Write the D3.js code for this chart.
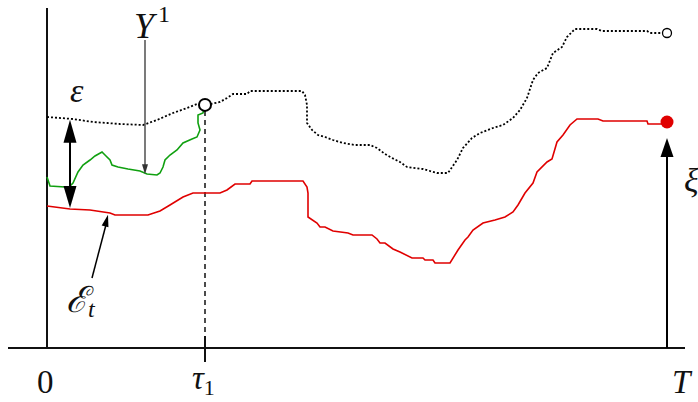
<!DOCTYPE html>
<html>
<head>
<meta charset="utf-8">
<script src="https://cdn.jsdelivr.net/npm/d3@7"></script>
<style>
  html, body { margin: 0; padding: 0; background: #fff; }
  svg { display: block; }
  .math { font-family: "Liberation Serif", "DejaVu Serif", serif; font-style: italic; fill: #111; }
  .num  { font-family: "Liberation Serif", "DejaVu Serif", serif; fill: #111; }
</style>
</head>
<body>
<svg id="chart" width="698" height="402"></svg>
<script>
// Time runs from 0 to T (= 620 steps); values are in the same plotting units.
const T = 620;
const tau1 = 158;

// Lower process E_t: [time, value]
const lowerT = [0, 23, 43, 63, 68, 101, 113, 123, 136, 146, 173, 180, 188, 203, 205, 256, 260, 261, 261, 270, 273, 278, 286, 301, 306, 325, 330, 333, 338, 346, 353, 365, 376, 378, 386, 388, 403, 411, 418, 421, 426, 436, 448, 458, 466, 471, 478, 486, 490, 500, 505, 510, 516, 523, 530, 551, 556, 600, 601, 620];
const lowerV = [142, 139, 138, 135, 133, 133, 137, 143, 151, 155, 155, 158, 164, 164, 167, 167, 161, 155, 131, 125, 121, 121, 117, 115, 113, 113, 109, 105, 105, 99, 96, 90, 90, 88, 88, 85, 85, 98, 108, 111, 118, 125, 128, 131, 136, 143, 155, 165, 176, 186, 189, 206, 213, 223, 229, 229, 227, 227, 224, 224];

// Upper barrier E_t + ε (dotted)
const upperT = [0, 26, 46, 60, 73, 96, 110, 126, 140, 150, 159, 173, 180, 186, 200, 203, 255, 258, 260, 260, 265, 271, 278, 286, 296, 308, 323, 330, 338, 345, 353, 360, 376, 390, 401, 410, 416, 425, 433, 446, 456, 466, 473, 480, 486, 491, 500, 506, 515, 520, 528, 550, 555, 600, 603, 620];
const upperV = [231, 229, 226, 225, 224, 223, 228, 235, 240, 244, 243, 246, 250, 254, 254, 257, 257, 253, 243, 225, 218, 213, 211, 208, 205, 203, 203, 200, 194, 190, 186, 181, 179, 175, 175, 188, 200, 210, 215, 220, 223, 230, 238, 250, 268, 275, 280, 295, 301, 311, 319, 319, 317, 317, 315, 315];

// First path Y^1, stopped when it reaches the upper barrier at tau_1
const pathT = [0, 3, 18, 21, 26, 31, 36, 43, 48, 55, 58, 63, 65, 71, 81, 93, 100, 110, 113, 116, 118, 123, 130, 136, 145, 150, 153, 151, 151, 156, 158];
const pathV = [171, 162, 161, 160, 165, 176, 183, 188, 192, 196, 193, 188, 183, 181, 179, 177, 174, 173, 175, 181, 188, 193, 198, 205, 209, 211, 218, 225, 233, 235, 243];

// Axis labels
const tickLabels = [{ t: 0, main: "0", sub: "" }, { t: tau1, main: "τ", sub: "1" }, { t: T, main: "T", sub: "" }];

const svg = d3.select("#chart");
const x = d3.scaleLinear().domain([0, T]).range([47, 667]);
const y = d3.scaleLinear().domain([0, 340]).range([348, 8]);

const zip = (ts, vs) => ts.map((t, i) => [t, vs[i]]);
const lower = zip(lowerT, lowerV);
const upper = zip(upperT, upperV);
const path1 = zip(pathT, pathV);

// value of a piecewise-linear series at time t
function valueAt(series, t) {
  for (let i = 1; i < series.length; i++) {
    if (series[i][0] >= t) {
      const [t0, v0] = series[i - 1], [t1, v1] = series[i];
      return t1 === t0 ? v1 : v0 + (v1 - v0) * (t - t0) / (t1 - t0);
    }
  }
  return series[series.length - 1][1];
}

const line = d3.line().x(d => x(d[0])).y(d => y(d[1]));

// filled arrowhead with its tip at (x2,y2)
function arrowHead(g, x1, y1, x2, y2, len, width, color) {
  const a = Math.atan2(y2 - y1, x2 - x1);
  const bx = x2 - len * Math.cos(a), by = y2 - len * Math.sin(a);
  const nx = -Math.sin(a) * width / 2, ny = Math.cos(a) * width / 2;
  g.append("path")
    .attr("d", `M${x2},${y2}L${bx + nx},${by + ny}L${bx - nx},${by - ny}Z`)
    .attr("fill", color);
}

// Axes
svg.append("line").attr("x1", x(0)).attr("x2", x(0)).attr("y1", 8).attr("y2", y(0))
  .attr("stroke", "#111").attr("stroke-width", 2);
svg.append("line").attr("x1", 8).attr("x2", 685).attr("y1", y(0)).attr("y2", y(0))
  .attr("stroke", "#111").attr("stroke-width", 2);

// tick at tau_1 and the dashed guide up to the hitting point
svg.append("line").attr("x1", x(tau1)).attr("x2", x(tau1)).attr("y1", y(0) - 12).attr("y2", y(0) + 14)
  .attr("stroke", "#111").attr("stroke-width", 2);
svg.append("line").attr("x1", x(tau1)).attr("x2", x(tau1))
  .attr("y1", y(valueAt(upper, tau1)) + 6).attr("y2", y(0) - 12)
  .attr("stroke", "#111").attr("stroke-width", 1.5).attr("stroke-dasharray", "5,4");

// Curves
svg.append("path").datum(upper).attr("d", line).attr("fill", "none")
  .attr("stroke", "#000").attr("stroke-width", 1.8).attr("stroke-dasharray", "2,2");
svg.append("path").datum(lower).attr("d", line).attr("fill", "none")
  .attr("stroke", "#e00000").attr("stroke-width", 1.6);
svg.append("path").datum(path1).attr("d", line).attr("fill", "none")
  .attr("stroke", "#10a010").attr("stroke-width", 1.6);

// hitting point at tau_1 and terminal point of the barrier
svg.append("circle").attr("cx", x(tau1)).attr("cy", y(valueAt(upper, tau1))).attr("r", 6)
  .attr("fill", "#fff").attr("stroke", "#000").attr("stroke-width", 2);
svg.append("circle").attr("cx", x(T)).attr("cy", y(valueAt(upper, T))).attr("r", 4.5)
  .attr("fill", "#fff").attr("stroke", "#000").attr("stroke-width", 1.3);
svg.append("circle").attr("cx", x(T)).attr("cy", y(valueAt(lower, T)) - 2).attr("r", 6.5)
  .attr("fill", "#e00000");

// ε double arrow between the two curves
const epsT = 23;
const ex = x(epsT), eTop = y(valueAt(upper, epsT)) + 1, eBot = y(valueAt(lower, epsT)) - 1;
const ga = svg.append("g");
ga.append("line").attr("x1", ex).attr("x2", ex).attr("y1", eTop + 18).attr("y2", eBot - 18)
  .attr("stroke", "#000").attr("stroke-width", 2);
arrowHead(ga, ex, eBot, ex, eTop, 23, 13, "#000");
arrowHead(ga, ex, eTop, ex, eBot, 22, 13, "#000");

// ξ arrow from the axis up to the terminal value
const gx = svg.append("g");
const xiTip = y(valueAt(lower, T)) + 14;
gx.append("line").attr("x1", x(T)).attr("x2", x(T)).attr("y1", y(0)).attr("y2", xiTip + 15)
  .attr("stroke", "#000").attr("stroke-width", 2);
arrowHead(gx, x(T), y(0), x(T), xiTip, 19, 13, "#000");

// pointer to Y^1
const yPtrT = 98;
const gy = svg.append("g");
gy.append("line").attr("x1", x(yPtrT)).attr("x2", x(yPtrT)).attr("y1", 40).attr("y2", y(valueAt(path1, yPtrT)) - 8)
  .attr("stroke", "#333").attr("stroke-width", 1.3);
arrowHead(gy, x(yPtrT), 40, x(yPtrT), y(valueAt(path1, yPtrT)) + 1, 10, 6, "#333");

// pointer to E_t
const ePtrT = 61;
const ge = svg.append("g");
const eTipX = x(ePtrT), eTipY = y(valueAt(lower, ePtrT)) + 2;
ge.append("line").attr("x1", 92).attr("y1", 278).attr("x2", eTipX - 2).attr("y2", eTipY + 10)
  .attr("stroke", "#000").attr("stroke-width", 1.5);
arrowHead(ge, 92, 278, eTipX, eTipY, 12, 7, "#000");

// Labels
const labels = svg.append("g");
tickLabels.forEach(d => {
  const isNum = d.main === "0";
  const txt = labels.append("text")
    .attr("class", isNum ? "num" : "math")
    .attr("x", d.t === 0 ? x(d.t) - 10 : d.t === T ? x(d.t) + 5 : x(d.t) - 13)
    .attr("y", d.sub ? 389 : 393).attr("font-size", 33);
  txt.append("tspan").text(d.main);
  if (d.sub) txt.append("tspan").attr("font-size", 22).attr("font-style", "normal").attr("dy", 6).text(d.sub);
});

const yl = labels.append("text").attr("class", "math").attr("x", 134).attr("y", 38).attr("font-size", 36);
yl.append("tspan").text("Y");
yl.append("tspan").attr("font-size", 24).attr("font-style", "normal").attr("dx", 4).attr("dy", -16).text("1");

labels.append("text").attr("class", "math").attr("x", 70).attr("y", 102).attr("font-size", 34).text("ε");

const el = labels.append("text").attr("class", "math").attr("x", 66).attr("y", 312).attr("font-size", 36);
el.append("tspan").text("ℰ");
el.append("tspan").attr("font-size", 24).attr("dy", 5).text("t");

labels.append("text").attr("class", "math").attr("x", 684).attr("y", 192).attr("font-size", 34).text("ξ");
</script>
</body>
</html>
